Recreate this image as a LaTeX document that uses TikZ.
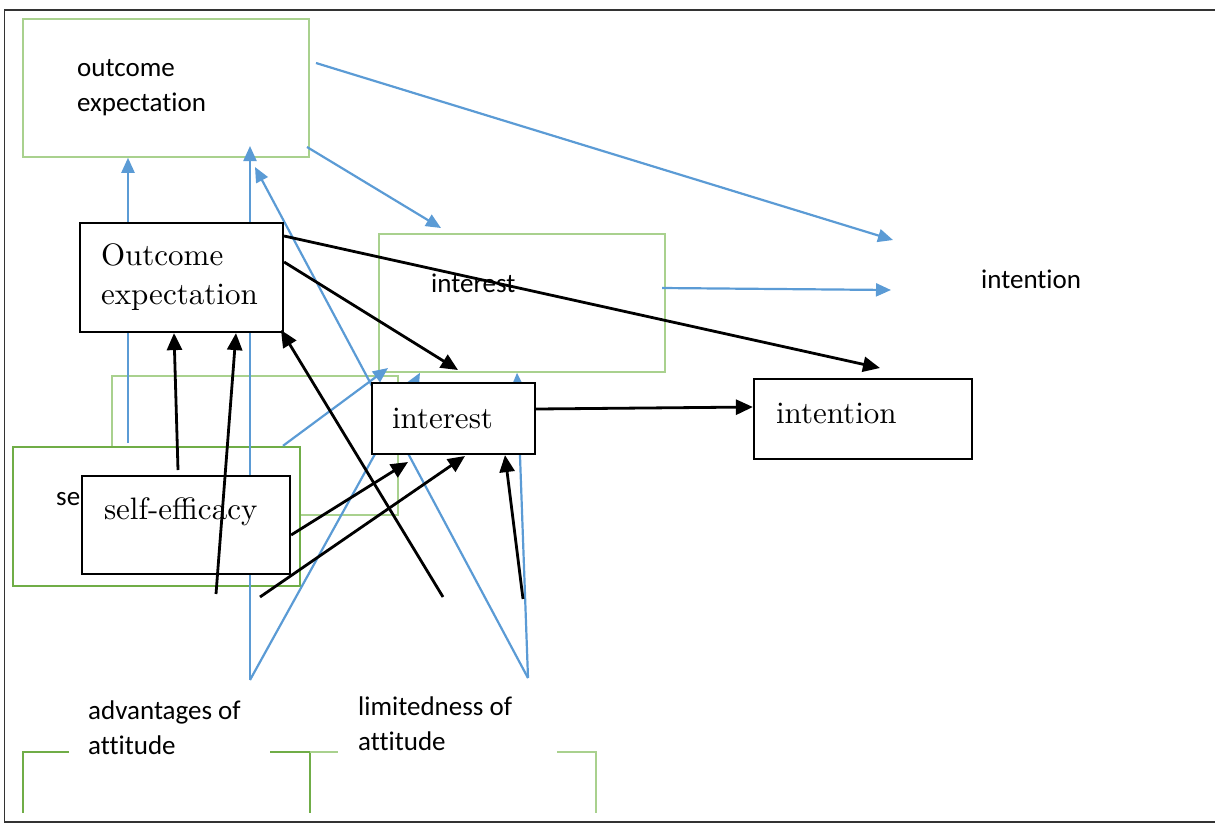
\documentclass[tikz,border=0pt]{standalone}
\usepackage{fontspec}
\newfontfamily\boxsans{Carlito}[Ligatures=NoCommon]
\newfontfamily\boxserif{lmroman10-regular}[Extension=.otf]
\usetikzlibrary{arrows.meta}
\definecolor{wblue}{HTML}{5B9BD5}
\definecolor{lgreen}{HTML}{A9D18E}
\definecolor{dgreen}{HTML}{70AD47}

\begin{document}
\begin{tikzpicture}[x=1pt,y=-1pt,
greenbox/.style={draw=lgreen,line width=1.5pt,inner sep=0pt},
darkbox/.style={draw=dgreen,line width=2.4pt,fill=white,inner sep=0pt},
blackbox/.style={draw=black,line width=2.2pt,fill=white,inner ysep=0pt,align=left,
  font=\boxserif\fontsize{31}{39}\selectfont},
sanslabel/.style={align=left,inner sep=0pt,font=\boxsans\fontsize{27}{35}\selectfont},
bluearrow/.style={draw=wblue,line width=2.2pt,-{Triangle[length=15pt,width=13pt]}},
blackarrow/.style={draw=black,line width=2.8pt,-{Triangle[length=17pt,width=15pt]}}]

\useasboundingbox (0,0) rectangle (1215,823);
\draw[line width=1.6pt,black!80] (1215,10) -- (4.5,10) -- (4.5,822) -- (1215,822);

% green text boxes
\node[greenbox,minimum width=286,minimum height=139] (sgi) at (255,445.5) {};
\node[darkbox,minimum width=287,minimum height=139] (sg) at (156.5,516.5) {};
\node[sanslabel,anchor=base west] (sgt) at (56,505) {self-efficacy};
\node[greenbox,minimum width=286,minimum height=138] (og) at (166,88) {};
\node[greenbox,minimum width=286,minimum height=138] (ig) at (522,303) {};

\node[sanslabel,anchor=west] (ogt) at (77,88) {outcome\\expectation};
\node[sanslabel,anchor=base west] (igt) at (431,292) {interest};
\node[sanslabel,anchor=base west] (nt) at (981,288) {intention};
\node[sanslabel,anchor=west] (advt) at (88,728) {advantages of\\attitude};
\node[sanslabel,anchor=west] (limt) at (358,724) {limitedness of\\attitude};

\draw[dgreen,line width=2pt] (69,752) -- (23,752) -- (23,813);
\draw[dgreen,line width=2pt] (270,752) -- (310,752) -- (310,813);
\draw[lgreen,line width=2pt] (310,752) -- (338,752);
\draw[lgreen,line width=2pt] (557,752) -- (596,752) -- (596,813);

% blue connectors
\coordinate (adv) at (250,680);
\coordinate (lim) at (528,678);
\draw[bluearrow] (128,443) -- (128,0 |- og.south);
\draw[bluearrow] (adv) -- (250,146);
\draw[bluearrow] (adv) -- (420,0 |- ig.south);
\draw[bluearrow] (lim) -- (255,167);
\draw[bluearrow] (lim) -- (517,0 |- ig.south);
\draw[bluearrow] (283,0 |- sg.north) -- (388,368);
\draw[bluearrow] (307,147) -- (441,228);
\draw[bluearrow] (316,63) -- (893,240);
\draw[bluearrow] (662,288) -- (891,290);

% black boxes
\node[blackbox,minimum width=203,minimum height=109,text width=161,inner xsep=21] (ob) at (181.5,277.5) {Outcome\\expectation};
\node[blackbox,minimum width=163,minimum height=71,text width=123,inner xsep=20,
  text height=20,text depth=0] (ib) at (453.5,418.5) {interest};
\node[blackbox,minimum width=218,minimum height=80,text width=174,inner xsep=22,
  text height=20,text depth=12] (nb) at (863,419) {intention};
\node[blackbox,minimum width=208,minimum height=98,text width=164,inner xsep=22,
  text height=20,text depth=32] (sb) at (186,525) {self-efficacy};

% black connectors
\draw[blackarrow] (ob.east |- 0,236) -- (880,368);
\draw[blackarrow] (ob.east |- 0,262) -- (458,370);
\draw[blackarrow] (ib.east |- 0,409) -- (nb.west |- 0,407);
\draw[blackarrow] (178,470) -- (174,0 |- ob.south);
\draw[blackarrow] (216,594) -- (236,0 |- ob.south);
\draw[blackarrow] (sb.east |- 0,535) -- (408,462);
\draw[blackarrow] (260,597) -- (465,456);
\draw[blackarrow] (443,597) -- (281,330);
\draw[blackarrow] (523,599) -- (505,0 |- ib.south);
\end{tikzpicture}
\end{document}
